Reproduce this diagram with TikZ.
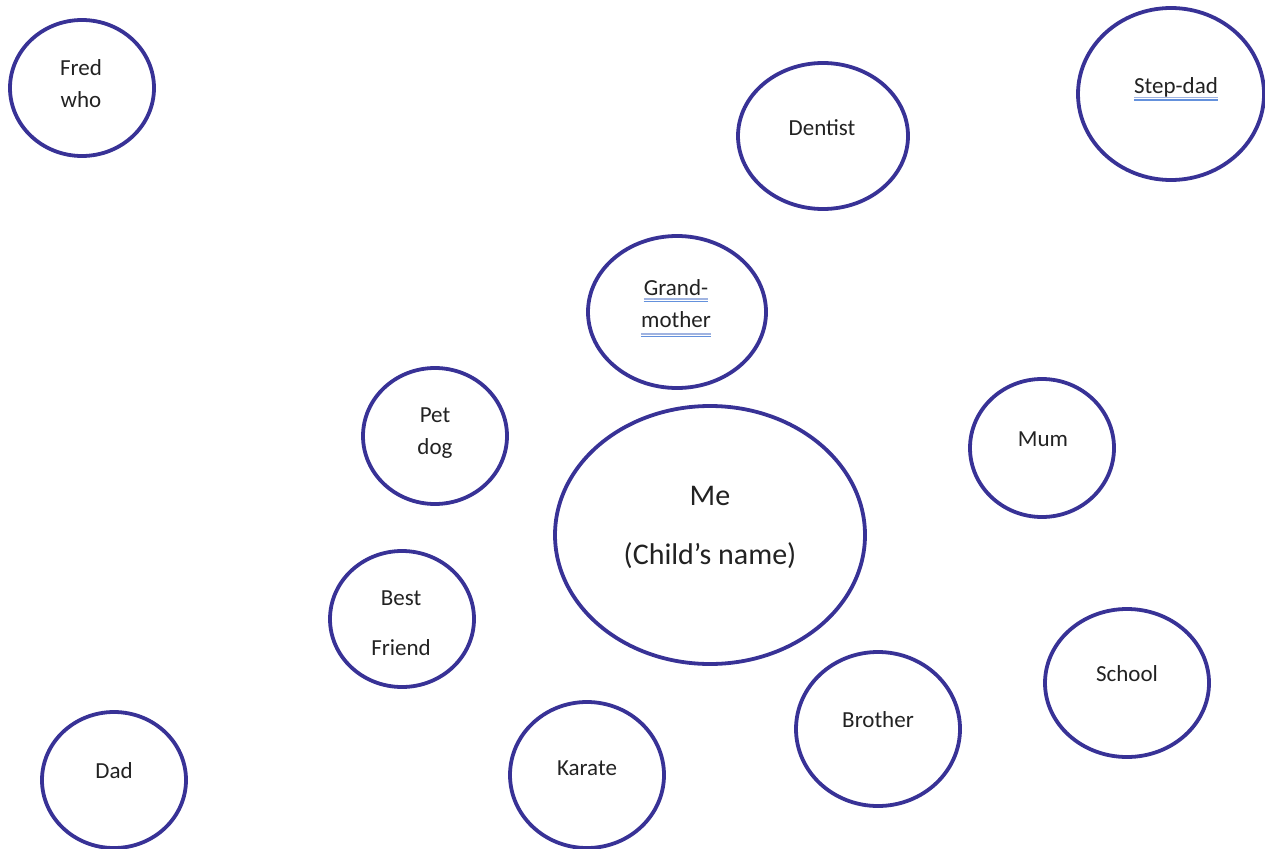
\documentclass[tikz,border=0pt]{standalone}
\usepackage{fontspec}
\setmainfont{Carlito}
\usepackage{tikz}
\usetikzlibrary{shapes.geometric}
\definecolor{ringblue}{RGB}{56,50,150}
\definecolor{spellblue}{RGB}{100,145,220}
\definecolor{spellpale}{RGB}{160,180,225}
\definecolor{inkgray}{RGB}{34,34,34}

\tikzset{
  bubble/.style={ellipse, draw=ringblue, line width=3.8pt, inner sep=0pt},
  word/.style={text=inkgray, font=\fontsize{23}{32}\selectfont, align=center, inner sep=0pt},
  bigword/.style={text=inkgray, font=\fontsize{30}{59}\selectfont, align=center, inner sep=0pt},
  squiggle/.style={spellblue, line width=1.4pt},
  paleline/.style={spellpale, line width=1.2pt}
}

\begin{document}
\begin{tikzpicture}[x=1pt,y=-1pt]
\useasboundingbox (0,0) rectangle (1265,848);
% the rings
\node[bubble, minimum width=144, minimum height=136] (fred) at (82,88) {};
\node[bubble, minimum width=170, minimum height=146] (dentist) at (823,136) {};
\node[bubble, minimum width=186, minimum height=172] (stepdad) at (1171,94) {};
\node[bubble, minimum width=178, minimum height=152] (gran) at (677,312) {};
\node[bubble, minimum width=144, minimum height=136] (dog) at (435,436) {};
\node[bubble, minimum width=310, minimum height=258] (me) at (710,535) {};
\node[bubble, minimum width=144, minimum height=138] (mum) at (1042,448) {};
\node[bubble, minimum width=144, minimum height=136] (friend) at (402,619) {};
\node[bubble, minimum width=164, minimum height=148] (school) at (1127,683) {};
\node[bubble, minimum width=164, minimum height=154] (brother) at (878,729) {};
\node[bubble, minimum width=154, minimum height=146] (karate) at (587,775) {};
\node[bubble, minimum width=144, minimum height=136] (dad) at (114,780) {};
% the words
\node[word] (fredT) at (81,84) {Fred\\who};
\node[word] (dentistT) at (822,128) {Dentist};
\node[word] (stepdadT) at (1176,87) {Step-dad};
\node[word] (granT) at (676,288) {Grand-};
\node[word] (granT2) at (676,320) {mother};
\node[word] (dogT) at (435,433) {Pet\\dog};
\node[bigword] (meT) at (710,527) {Me\\(Child’s name)};
\node[word] (mumT) at (1043,439) {Mum};
\node[word] (friendT) at (401,623) {Best\\[18pt]Friend};
\node[word] (schoolT) at (1127,674) {School};
\node[word] (brotherT) at (878,720) {Brother};
\node[word] (karateT) at (587,768) {Karate};
\node[word] (dadT) at (114,771) {Dad};
% spelling marks
\draw[paleline] ([yshift=-4.5pt]stepdadT.base west) -- ([yshift=-4.5pt]stepdadT.base east);
\draw[squiggle] ([yshift=-7pt]stepdadT.base west) -- ([yshift=-7pt]stepdadT.base east);
\draw[paleline] ([yshift=-3pt]granT.base west) -- ([yshift=-3pt]granT.base east);
\draw[squiggle] ([yshift=-5.5pt]granT.base west) -- ([yshift=-5.5pt]granT.base east);
\draw[paleline] ([yshift=-6pt]granT2.base west) -- ([yshift=-6pt]granT2.base east);
\draw[squiggle] ([yshift=-8.5pt]granT2.base west) -- ([yshift=-8.5pt]granT2.base east);
\end{tikzpicture}
\end{document}
